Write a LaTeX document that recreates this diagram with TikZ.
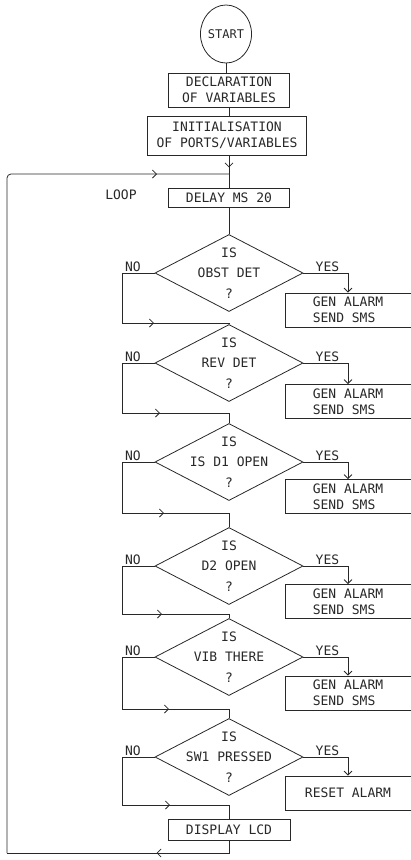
\documentclass[tikz,border=0pt]{standalone}
\usepackage{fontspec}
\setmonofont{DejaVu Sans Mono}
\usepackage{xcolor}
\usetikzlibrary{arrows.meta, positioning, shapes.geometric, decorations.markings}
\definecolor{flowink}{RGB}{40, 40, 40}

\begin{document}
\begin{tikzpicture}[x=1pt, y=-1pt,
    line width=0.8pt, draw=flowink,
    txt/.style={font=\ttfamily\fontsize{13}{16}\selectfont, text=flowink},
    procbox/.style={txt, draw=flowink, rectangle, inner sep=0pt, align=center},
    alarmbox/.style={procbox, minimum width=126pt, minimum height=34pt, align=left},
    decision/.style={draw=flowink, diamond, minimum width=148pt, minimum height=77pt, inner sep=0pt},
    asktext/.style={txt, align=center, font=\ttfamily\fontsize{13}{20.5}\selectfont},
    labtxt/.style={txt, inner sep=0pt, yshift=2pt},
    barb/.style={-{Straight Barb[length=4pt, width=8pt]}},
    arrowat/.style={postaction={decorate}, decoration={markings,
        mark=at position #1 with {\arrow{Straight Barb[length=4pt, width=8pt]}}}}]
  \useasboundingbox (0,0) rectangle (410,860);

  % start and set-up
  \node[txt, draw=flowink, ellipse, minimum width=46pt, minimum height=58pt, inner sep=0pt,
        font=\ttfamily\fontsize{12}{14}\selectfont] (start) at (226,34) {START};
  \node[procbox, minimum width=121pt, minimum height=34pt] (decl) at (229,90)
    {DECLARATION\\OF VARIABLES};
  \node[procbox, minimum width=159pt, minimum height=39pt] (init) at (227,135.5)
    {INITIALISATION\\OF PORTS/VARIABLES};
  \node[procbox, minimum width=121pt, minimum height=19pt] (delay) at (229,197.5) {DELAY MS 20};
  \coordinate (looptop) at (229,174);
  \node[txt] (looplab) at (121,195) {LOOP};
  \draw (start.south) -- (start.south |- decl.north);
  \draw (decl.south) -- (decl.south |- init.north);
  \draw[arrowat=12pt] (looptop |- init.south) -- (delay.north);

  % decisions
  \node[decision] (d1) at (229,273) {};
  \node[asktext] (q1) at (d1) {IS\\OBST DET\\?};
  \node[decision] (d2) at (229,363) {};
  \node[asktext] (q2) at (d2) {IS\\REV DET\\?};
  \node[decision] (d3) at (229,462) {};
  \node[asktext] (q3) at (d3) {IS\\IS D1 OPEN\\?};
  \node[decision] (d4) at (229,566) {};
  \node[asktext] (q4) at (d4) {IS\\D2 OPEN\\?};
  \node[decision] (d5) at (229,657) {};
  \node[asktext] (q5) at (d5) {IS\\VIB THERE\\?};
  \node[decision] (d6) at (229,757) {};
  \node[asktext] (q6) at (d6) {IS\\SW1 PRESSED\\?};

  % yes actions
  \node[alarmbox] (y1) at (348,310) {GEN ALARM\\SEND SMS};
  \node[alarmbox] (y2) at (348,401.5) {GEN ALARM\\SEND SMS};
  \node[alarmbox] (y3) at (348,496.5) {GEN ALARM\\SEND SMS};
  \node[alarmbox] (y4) at (348,601.5) {GEN ALARM\\SEND SMS};
  \node[alarmbox] (y5) at (348,693) {GEN ALARM\\SEND SMS};
  \node[alarmbox, align=center] (y6) at (348,793) {RESET ALARM};
  \node[procbox, minimum width=122pt, minimum height=21pt] (disp) at (229,829.5) {DISPLAY LCD};

  \draw (delay.south) -- (d1.north);
  \foreach \d/\y in {d1/y1, d2/y2, d3/y3, d4/y4, d5/y5, d6/y6}
    \draw[barb] (\d.east) -| node[labtxt, pos=0.27, anchor=base] {YES} (\y.north);

  % no branches
  \coordinate (j1) at (229,323);
  \coordinate (j2) at (229,413);
  \coordinate (j3) at (229,513);
  \coordinate (j4) at (229,614);
  \coordinate (j5) at (229,709);
  \coordinate (j6) at (229,805);
  \draw[arrowat=-75pt] (d1.west) -- ++(-32,0) node[labtxt, anchor=base west, xshift=2pt] {NO} |- (j1);
  \draw[arrowat=-69pt] (d2.west) -- ++(-32,0) node[labtxt, anchor=base west, xshift=2pt] {NO} |- (j2);
  \draw[arrowat=-65pt] (d3.west) -- ++(-32,0) node[labtxt, anchor=base west, xshift=2pt] {NO} |- (j3);
  \draw[arrowat=-67pt] (d4.west) -- ++(-32,0) node[labtxt, anchor=base west, xshift=2pt] {NO} |- (j4);
  \draw[arrowat=-60pt] (d5.west) -- ++(-32,0) node[labtxt, anchor=base west, xshift=2pt] {NO} |- (j5);
  \draw[arrowat=-59pt] (d6.west) -- ++(-32,0) node[labtxt, anchor=base west, xshift=2pt] {NO} |- (j6);
  \draw (j1) -- (d2.north);
  \draw (j2) -- (d3.north);
  \draw (j3) -- (d4.north);
  \draw (j4) -- (d5.north);
  \draw (j5) -- (d6.north);
  \draw (j6) -- (disp.north);

  % loop back
  \coordinate (loopbot) at (229,853);
  \coordinate (loopleft) at (7,853);
  \draw[arrowat=85pt] (disp.south) -- (loopbot) -- (loopleft);
  \draw[rounded corners=4pt, arrowat=-72pt] (loopleft) -- (7,174) -- (looptop);
\end{tikzpicture}
\end{document}
